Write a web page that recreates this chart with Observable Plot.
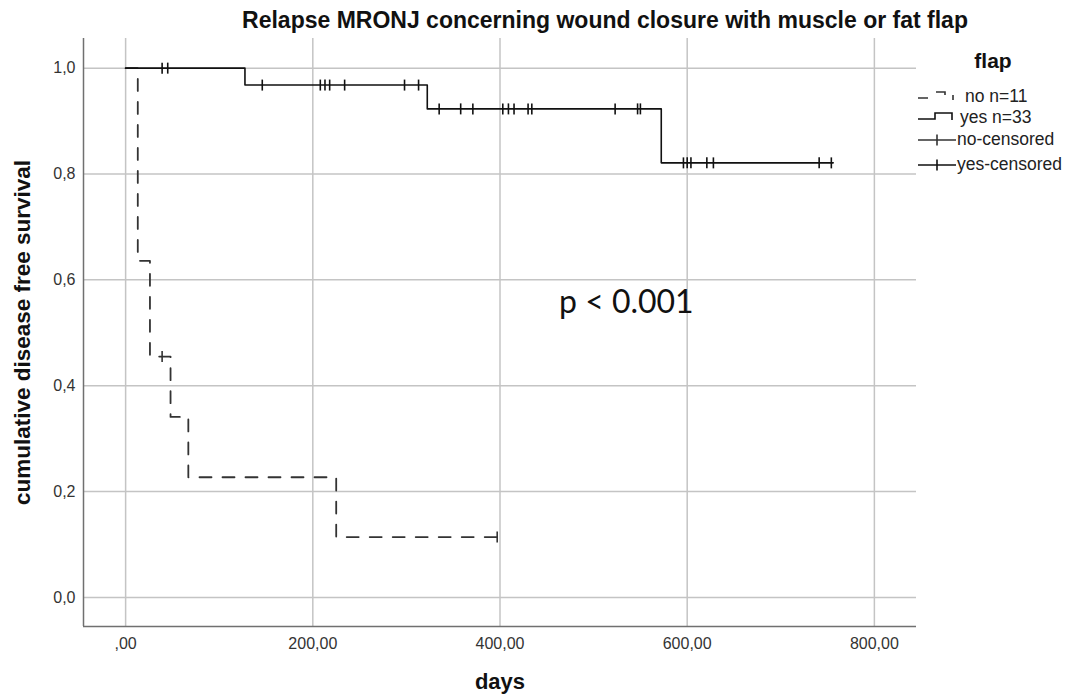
<!DOCTYPE html>
<html>
<head>
<meta charset="utf-8">
<script src="https://cdn.jsdelivr.net/npm/d3@7"></script>
<script src="https://cdn.jsdelivr.net/npm/@observablehq/plot@0.6"></script>
<style>
  html, body { margin: 0; padding: 0; background: #fff; }
  #wrap { position: relative; width: 1076px; height: 699px; font-family: "Liberation Sans", Arial, sans-serif; }
  #title { position: absolute; left: 0; width: 1210px; top: 7px; text-align: center; font-size: 23px; font-weight: bold; color: #111; white-space: nowrap; }
  #legend { position: absolute; left: 915px; top: 0; width: 161px; height: 200px; }
  #legend .head { position: absolute; left: 0; width: 156px; top: 49px; text-align: center; font-size: 21px; font-weight: bold; color: #111; }
  #legend .item { position: absolute; font-size: 17.5px; color: #222; white-space: nowrap; }
  #legend svg { position: absolute; }
</style>
</head>
<body>
<div id="wrap">
  <div id="chart"></div>
  <div id="title"></div>
  <div id="legend"></div>
</div>
<script>
// ---------- data ----------
const titleText = "Relapse MRONJ concerning wound closure with muscle or fat flap";
const xLabel = "days";
const yLabel = "cumulative disease free survival";
const legendTitle = "flap";
const groups = ["no n=11", "yes n=33"];
const censorLabels = ["no-censored", "yes-censored"];

// group "yes" (solid): step times and survival after each step
const yesTimes = [0, 127.5, 322.3, 572.3, 756];
const yesSurv  = [1.0, 0.968, 0.923, 0.821, 0.821];
const yesCensored = [39, 45, 146, 208, 213, 218, 234, 298, 313, 335, 358, 371, 403, 409, 415, 430, 434, 523, 547, 550, 596, 600, 604, 621, 628, 741, 754];

// group "no" (dashed)
const noTimes = [0, 13, 26, 48, 67, 225, 398];
const noSurv  = [1.0, 0.636, 0.455, 0.341, 0.227, 0.114, 0.114];
const noCensored = [39, 397];

const xTicks = [0, 200, 400, 600, 800];
const xTickLabels = [",00", "200,00", "400,00", "600,00", "800,00"];
const yTicks = [0, 0.2, 0.4, 0.6, 0.8, 1.0];
const yTickLabels = ["0,0", "0,2", "0,4", "0,6", "0,8", "1,0"];

const annotation = [{x: 535, y: 0.557, text: "p < 0.001"}];

const xDomain = [-45, 845];
const yDomain = [-0.055, 1.056];

// ---------- build ----------
const steps = (times, surv) => times.map((t, i) => ({t, s: surv[i]}));
const survAt = (times, surv, c) => { let k = 0; for (let i = 0; i < times.length; i++) if (times[i] <= c) k = i; return surv[k]; };
const yesLine = steps(yesTimes, yesSurv);
const noLine = steps(noTimes, noSurv);
const yesCens = yesCensored.map(c => ({t: c, s: survAt(yesTimes, yesSurv, c)}));
const noCens = noCensored.map(c => ({t: c, s: survAt(noTimes, noSurv, c)}));

const censorSymbol = { draw(ctx) { ctx.moveTo(0, -5.5); ctx.lineTo(0, 5.5); } };

const gridColor = "#c4c4c4";
const axisColor = "#707070";

const chart = Plot.plot({
  width: 1076,
  height: 699,
  marginLeft: 83,
  marginRight: 160,
  marginTop: 38,
  marginBottom: 73,
  style: { fontFamily: "'Liberation Sans', Arial, sans-serif", background: "#fff" },
  x: { domain: xDomain },
  y: { domain: yDomain },
  marks: [
    Plot.gridX(xTicks, { stroke: gridColor, strokeOpacity: 1, strokeWidth: 1.5 }),
    Plot.gridY(yTicks, { stroke: gridColor, strokeOpacity: 1, strokeWidth: 1.5 }),
    Plot.ruleX([xDomain[0]], { stroke: axisColor, strokeWidth: 1.5 }),
    Plot.ruleY([yDomain[0]], { stroke: axisColor, strokeWidth: 1.5 }),
    Plot.axisX(xTicks, { tickSize: 0, tickPadding: 11, tickFormat: (d, i) => xTickLabels[i], fontSize: 16, fill: "#333", label: null }),
    Plot.axisY(yTicks, { tickSize: 0, tickPadding: 8, tickFormat: (d, i) => yTickLabels[i], fontSize: 16, fill: "#333", label: null }),
    Plot.text([yLabel], { frameAnchor: "left", textAnchor: "middle", rotate: -90, dx: -61, fontSize: 22.5, fontWeight: "bold", fill: "#111" }),
    Plot.text([xLabel], { frameAnchor: "bottom", dy: 62, fontSize: 22, fontWeight: "bold", fill: "#111" }),
    Plot.line(noLine, { x: "t", y: "s", curve: "step-after", stroke: "#333", strokeWidth: 1.8, strokeDasharray: "12,11" }),
    Plot.line(yesLine, { x: "t", y: "s", curve: "step-after", stroke: "#111", strokeWidth: 1.6 }),
    Plot.dot(noCens, { x: "t", y: "s", symbol: censorSymbol, fill: "none", stroke: "#333", strokeWidth: 1.6 }),
    Plot.dot(yesCens, { x: "t", y: "s", symbol: censorSymbol, fill: "none", stroke: "#111", strokeWidth: 1.6 }),
    Plot.text(annotation, { x: "x", y: "y", text: "text", fontSize: 32, fontFamily: "Lato, 'Open Sans', sans-serif", fill: "#111" })
  ]
});
document.getElementById("chart").appendChild(chart);
document.getElementById("title").textContent = titleText;

// ---------- legend ----------
const lg = document.getElementById("legend");
const head = document.createElement("div");
head.className = "head"; head.textContent = legendTitle; lg.appendChild(head);
const rows = [
  { y: 97, label: groups[0], textX: 50, path: "M0,7 H10 M18,1 H27 V4 M35,4 V9", stroke: "#333" },
  { y: 118, label: groups[1], textX: 45, path: "M0,7 H17 V1 H34 V8", stroke: "#111" },
  { y: 140, label: censorLabels[0], textX: 42, path: "M0,6 H38 M19,0.5 V11.5", stroke: "#333" },
  { y: 165, label: censorLabels[1], textX: 42, path: "M0,6 H38 M19,0.5 V11.5", stroke: "#111" }
];
const ns = "http://www.w3.org/2000/svg";
rows.forEach(r => {
  const s = document.createElementNS(ns, "svg");
  s.setAttribute("width", 40); s.setAttribute("height", 12);
  s.style.left = "3px"; s.style.top = (r.y - 6) + "px";
  const p = document.createElementNS(ns, "path");
  p.setAttribute("d", r.path); p.setAttribute("fill", "none");
  p.setAttribute("stroke", r.stroke); p.setAttribute("stroke-width", 1.6);
  s.appendChild(p); lg.appendChild(s);
  const t = document.createElement("div");
  t.className = "item"; t.textContent = r.label;
  t.style.left = r.textX + "px"; t.style.top = (r.y - 11) + "px";
  lg.appendChild(t);
});
</script>
</body>
</html>
